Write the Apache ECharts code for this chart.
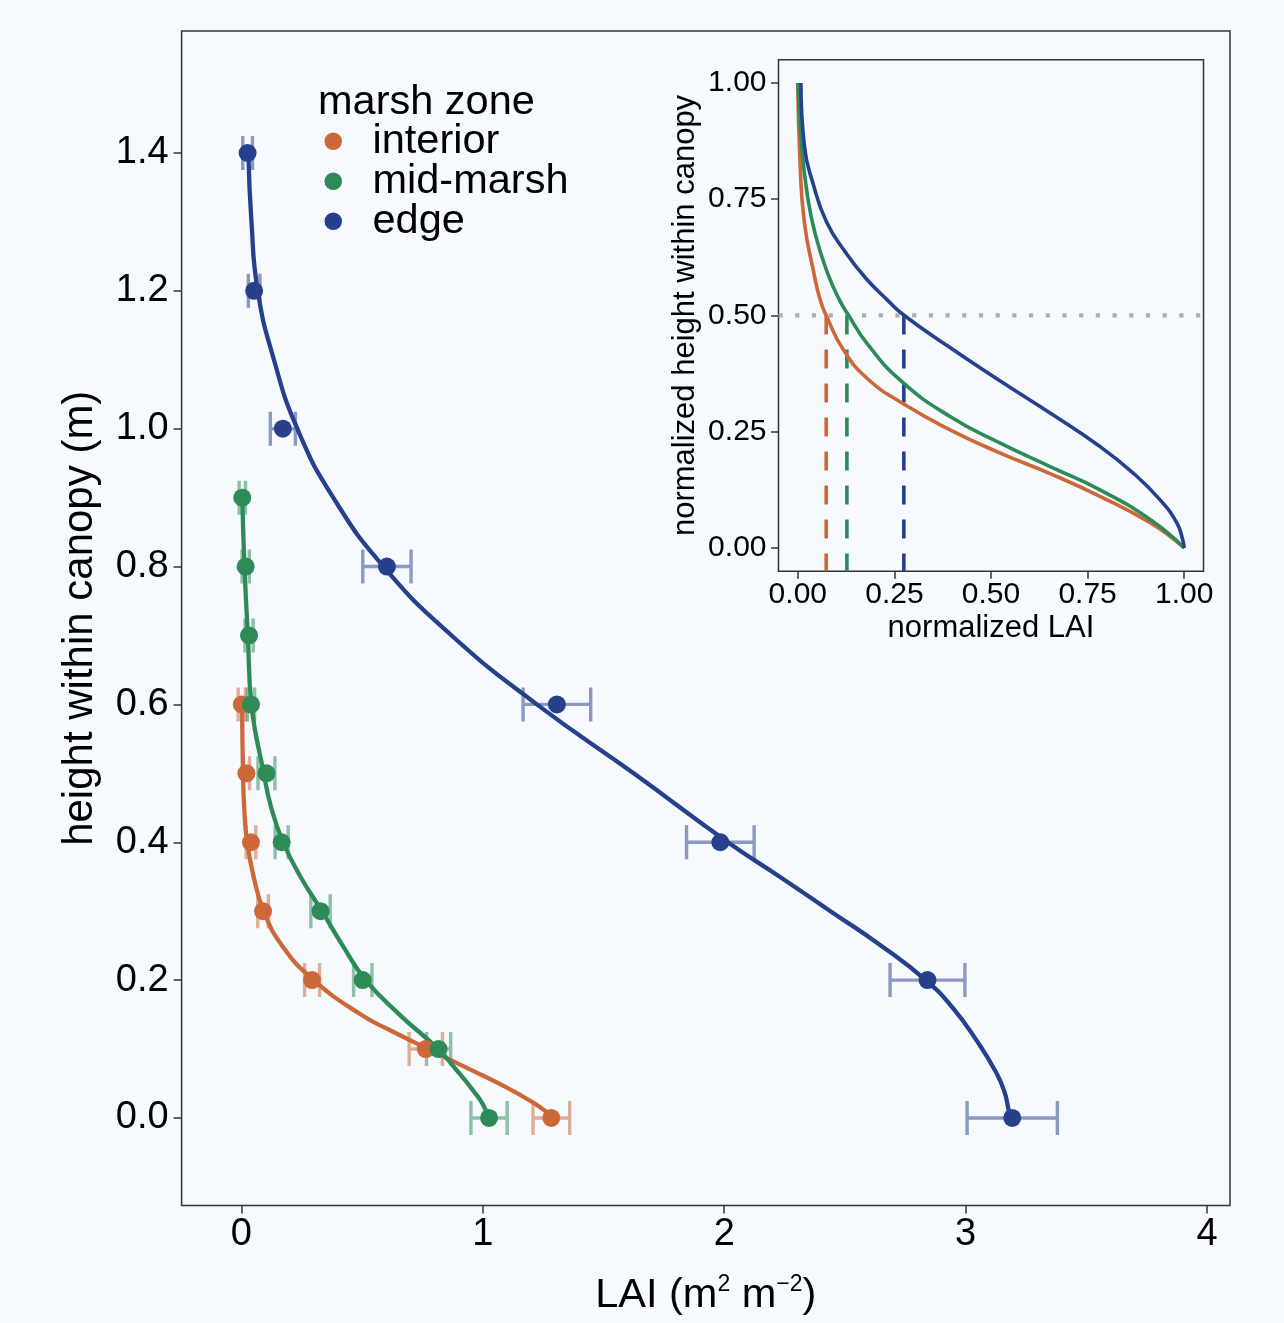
<!DOCTYPE html>
<html>
<head>
<meta charset="utf-8">
<script src="https://cdn.jsdelivr.net/npm/echarts@6/dist/echarts.min.js"></script>
<style>
html,body{margin:0;padding:0;background:#f6f9fe;}
#c{width:1284px;height:1323px;}
</style>
</head>
<body>
<div id="c"></div>
<script>
// ---------- data ----------
const zones = ['interior', 'mid-marsh', 'edge'];

// measured points (height m, LAI, +/- error)
const heightsInterior = [0.6, 0.5, 0.4, 0.3, 0.2, 0.1, 0.0];
const laiInterior     = [0.002, 0.021, 0.04, 0.09, 0.293, 0.764, 1.284];
const errInterior     = [0.015, 0.013, 0.02, 0.022, 0.031, 0.069, 0.076];

const heightsMid = [0.9, 0.8, 0.7, 0.6, 0.5, 0.4, 0.3, 0.2, 0.1, 0.0];
const laiMid     = [0.004, 0.018, 0.032, 0.040, 0.104, 0.167, 0.328, 0.503, 0.817, 1.026];
const errMid     = [0.013, 0.015, 0.017, 0.015, 0.035, 0.027, 0.04, 0.038, 0.05, 0.075];

const heightsEdge = [1.4, 1.2, 1.0, 0.8, 0.6, 0.4, 0.2, 0.0];
const laiEdge     = [0.026, 0.053, 0.172, 0.603, 1.307, 1.984, 2.842, 3.193];
const errEdge     = [0.02, 0.024, 0.052, 0.1, 0.14, 0.14, 0.155, 0.187];

// fitted profile curves
const fitHInterior   = [0.6, 0.5, 0.45, 0.4, 0.35, 0.3, 0.25, 0.2, 0.15, 0.128, 0.1, 0.068, 0.049, 0.025, 0.008, 0.0];
const fitLaiInterior = [0.003, 0.007, 0.012, 0.024, 0.051, 0.093, 0.169, 0.3, 0.495, 0.612, 0.774, 0.962, 1.072, 1.196, 1.266, 1.283];

const fitHMid   = [0.9, 0.8, 0.7, 0.6, 0.5, 0.45, 0.4, 0.35, 0.3, 0.25, 0.2, 0.15, 0.1, 0.068, 0.039, 0.02, 0.0];
const fitLaiMid = [0.004, 0.013, 0.027, 0.042, 0.093, 0.124, 0.173, 0.245, 0.334, 0.42, 0.515, 0.655, 0.815, 0.895, 0.962, 1.0, 1.025];

const fitHEdge   = [1.4, 1.3, 1.2, 1.1, 1.0, 0.9, 0.8, 0.7, 0.6, 0.5, 0.4, 0.35, 0.3, 0.25, 0.2, 0.16, 0.11, 0.07, 0.04, 0.01, 0.0];
const fitLaiEdge = [0.029, 0.042, 0.068, 0.135, 0.232, 0.381, 0.589, 0.871, 1.224, 1.625, 2.015, 2.23, 2.44, 2.65, 2.835, 2.946, 3.05, 3.12, 3.159, 3.179, 3.184];

// inset: normalized curves (normalized LAI, normalized height)
const normLaiInterior = [0, 0.006, 0.017, 0.041, 0.058, 0.075, 0.118, 0.179, 0.273, 0.394, 0.524, 0.653, 0.782, 0.912, 1.0];
const normHInterior   = [1.0, 0.823, 0.70, 0.593, 0.533, 0.497, 0.426, 0.365, 0.31, 0.254, 0.204, 0.16, 0.111, 0.054, 0.0];

const normLaiMid = [0, 0.01, 0.025, 0.045, 0.076, 0.108, 0.131, 0.179, 0.265, 0.394, 0.524, 0.653, 0.782, 0.912, 1.0];
const normHMid   = [1.0, 0.864, 0.757, 0.675, 0.593, 0.533, 0.501, 0.44, 0.361, 0.2825, 0.2254, 0.175, 0.125, 0.061, 0.0];

const normLaiEdge = [0.008, 0.017, 0.04, 0.075, 0.125, 0.176, 0.232, 0.274, 0.39, 0.52, 0.653, 0.782, 0.868, 0.937, 0.981, 0.996, 1.0];
const normHEdge   = [1.0, 0.864, 0.782, 0.70, 0.634, 0.58, 0.533, 0.501, 0.433, 0.361, 0.29, 0.218, 0.161, 0.104, 0.054, 0.018, 0.0];

// half-LAI height reference and where each curve reaches it
const halfHeight = 0.5;
const halfLai = [0.0735, 0.127, 0.2744]; // interior, mid-marsh, edge

// tick labels
const mainXTicks = [0, 1, 2, 3, 4];
const mainYTicks = [0, 0.2, 0.4, 0.6, 0.8, 1.0, 1.2, 1.4];
const insetTicks = [0, 0.25, 0.5, 0.75, 1.0];

// ---------- styling ----------
const BG = '#f6f9fe';
const FONT = '"Liberation Sans", Arial, Helvetica, sans-serif';
const COLORS = ['#cd6839', '#2e8b57', '#27408b'];
const FRAME = '#333333';

const MAIN_X = [-0.2474, 4.095];
const MAIN_Y = [-0.127, 1.577];
const INSET_R = [-0.05, 1.05];

const pts = [
  [laiInterior, heightsInterior, errInterior],
  [laiMid, heightsMid, errMid],
  [laiEdge, heightsEdge, errEdge]
];
const fits = [
  [fitLaiInterior, fitHInterior],
  [fitLaiMid, fitHMid],
  [fitLaiEdge, fitHEdge]
];
const norms = [
  [normLaiInterior, normHInterior],
  [normLaiMid, normHMid],
  [normLaiEdge, normHEdge]
];

function pairs(xs, ys) { return xs.map((x, i) => [x, ys[i]]); }

function errRenderer(color) {
  return function (params, api) {
    const x = api.value(0), y = api.value(1), e = api.value(2);
    const a = api.coord([x - e, y]);
    const b = api.coord([x + e, y]);
    const h = 17;
    return {
      type: 'polyline',
      shape: { points: [[a[0], a[1] - h], [a[0], a[1] + h], [a[0], a[1]], [b[0], b[1]], [b[0], b[1] - h], [b[0], b[1] + h]] },
      style: { stroke: color, lineWidth: 3.4, fill: 'none', opacity: 0.52, lineJoin: 'bevel', lineCap: 'butt' }
    };
  };
}

const series = [];
zones.forEach((z, k) => {
  const [xs, ys, es] = pts[k];
  series.push({
    name: z + ' error', type: 'custom', xAxisIndex: 0, yAxisIndex: 0,
    renderItem: errRenderer(COLORS[k]), silent: true, z: 2,
    encode: { x: 0, y: 1 },
    data: xs.map((x, i) => [x, ys[i], es[i]])
  });
});
zones.forEach((z, k) => {
  const [xs, ys] = fits[k];
  series.push({
    name: z + ' fit', type: 'line', xAxisIndex: 0, yAxisIndex: 0,
    data: pairs(xs, ys), showSymbol: false, smooth: 0.5, silent: true, z: 3,
    lineStyle: { color: COLORS[k], width: 4.3 }
  });
});
zones.forEach((z, k) => {
  const [xs, ys] = pts[k];
  series.push({
    name: z, type: 'scatter', xAxisIndex: 0, yAxisIndex: 0,
    data: pairs(xs, ys), symbolSize: 18, silent: true, z: 5,
    itemStyle: { color: COLORS[k], opacity: 1 }
  });
});
// inset
series.push({
  name: 'half line', type: 'line', xAxisIndex: 1, yAxisIndex: 1,
  data: [[INSET_R[0], halfHeight], [INSET_R[1], halfHeight]],
  showSymbol: false, silent: true, z: 2,
  lineStyle: { color: '#aeaeae', width: 4.2, type: [4.2, 12.5] }
});
zones.forEach((z, k) => {
  series.push({
    name: z + ' half', type: 'line', xAxisIndex: 1, yAxisIndex: 1,
    data: [[halfLai[k], halfHeight], [halfLai[k], INSET_R[0]]],
    showSymbol: false, silent: true, z: 3,
    lineStyle: { color: COLORS[k], width: 3.6, type: [19, 15] }
  });
});
zones.forEach((z, k) => {
  const [xs, ys] = norms[k];
  series.push({
    name: z + ' norm', type: 'line', xAxisIndex: 1, yAxisIndex: 1,
    data: pairs(xs, ys), showSymbol: false, smooth: 0.5, silent: true, z: 4,
    lineStyle: { color: COLORS[k], width: 3.6 }
  });
});

function valueAxis(o) {
  return Object.assign({
    type: 'value',
    axisLine: { show: false, onZero: false },
    splitLine: { show: false },
    axisTick: { show: true, length: o.tl, lineStyle: { color: FRAME, width: 1.5 }, customValues: o.ticks },
    axisLabel: { customValues: o.ticks, fontSize: o.fs, color: '#000', fontFamily: FONT, margin: o.margin, formatter: o.fmt },
    nameLocation: 'middle',
    nameTextStyle: { fontSize: o.nfs, color: '#000', fontFamily: FONT }
  }, o.extra);
}

const option = {
  backgroundColor: BG,
  animation: false,
  textStyle: { fontFamily: FONT },
  grid: [
    { left: 181.6, top: 31, width: 1048.4, height: 1180.7, show: true, borderColor: FRAME, borderWidth: 1.5, backgroundColor: 'transparent' },
    { left: 778.5, top: 59.7, width: 425, height: 511.5, show: true, borderColor: FRAME, borderWidth: 1.5, backgroundColor: BG, z: 1 }
  ],
  xAxis: [
    valueAxis({ ticks: mainXTicks, fs: 38, margin: 10, tl: 8, nfs: 41.5, fmt: v => String(v),
      extra: { gridIndex: 0, min: MAIN_X[0], max: MAIN_X[1],
        name: 'LAI (m{sup|2} m{sup|\u22122})', nameGap: 69,
        nameTextStyle: { fontSize: 41.5, color: '#000', fontFamily: FONT, lineHeight: 42,
          rich: { sup: { fontSize: 23, lineHeight: 23, padding: [0, 0, 22, 0], color: '#000', fontFamily: FONT } } } } }),
    valueAxis({ ticks: insetTicks, fs: 30, margin: 9, tl: 7.5, nfs: 31, fmt: v => v.toFixed(2),
      extra: { gridIndex: 1, min: INSET_R[0], max: INSET_R[1], name: 'normalized LAI', nameGap: 42 } })
  ],
  yAxis: [
    valueAxis({ ticks: mainYTicks, fs: 38, margin: 13, tl: 8, nfs: 42, fmt: v => v.toFixed(1),
      extra: { gridIndex: 0, min: MAIN_Y[0], max: MAIN_Y[1], name: 'height within canopy (m)', nameGap: 80 } }),
    valueAxis({ ticks: insetTicks, fs: 30, margin: 12, tl: 7.5, nfs: 31, fmt: v => v.toFixed(2),
      extra: { gridIndex: 1, min: INSET_R[0], max: INSET_R[1], name: 'normalized height within canopy', nameGap: 78 } })
  ],
  legend: {
    data: zones, orient: 'vertical', left: 324.5, top: 120.3, padding: 0,
    icon: 'circle', itemWidth: 17.5, itemHeight: 17.5, itemGap: -2,
    selectedMode: false,
    textStyle: { fontSize: 41.5, color: '#000', fontFamily: FONT, lineHeight: 41.5, padding: [0, 0, 0, 25.5] }
  },
  graphic: [
    { type: 'text', left: 318, top: 82, silent: true,
      style: { text: 'marsh zone', fontSize: 41.5, fontFamily: FONT, fill: '#000' } }
  ],
  series: series
};

const chart = echarts.init(document.getElementById('c'), null, { renderer: 'canvas' });
chart.setOption(option);
</script>
</body>
</html>
